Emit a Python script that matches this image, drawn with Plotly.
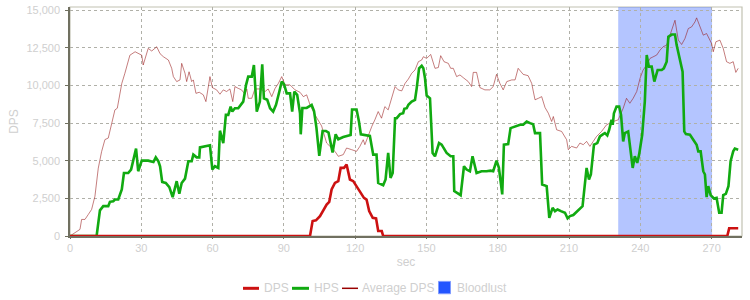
import plotly.graph_objects as go

# ---- data (seconds, value) ----
avg_t = [0, 2.1, 4.2, 4.9, 6.3, 7.7, 9.1, 10.5, 11.9, 13.3, 14.7, 16.1, 17.5, 18.9, 19.9, 21.8, 23.1, 25.2, 27.4, 28.7,
         30.2, 30.8, 32.3, 32.9, 34.4, 35.8, 36.5, 37.9, 39.3, 41.4, 42.8, 43.5, 44.9, 46.3, 47.0, 48.4, 49.1, 50.1, 51.2, 51.9,
         53.0, 54.4, 56.1, 57.2, 58.9, 59.9, 61.7, 63.1, 64.5, 65.9, 67.3, 68.5, 69.4, 70.8, 72.2, 73.6, 74.4, 75.0, 76.5, 77.8,
         79.9, 82.1, 83.4, 84.9, 86.3, 87.7, 89.1, 90.5, 92.6, 94.7, 96.8, 98.2, 99.6, 101.0, 103.1, 105.9, 108.0, 111.5, 112.9, 115.0,
         116.4, 118.5, 120.6, 122.0, 123.4, 124.1, 125.5, 127.0, 128.3, 129.7, 131.1, 132.5, 133.9, 135.4, 136.8, 138.1, 139.6, 141.0, 142.4, 143.8,
         145.2, 146.6, 148.0, 148.7, 150.1, 151.8, 153.6, 155.0, 156.0, 157.4, 159.2, 160.2, 161.3, 162.7, 164.1, 165.5, 167.6, 169.0, 169.7, 171.1,
         172.5, 174.6, 176.7, 178.1, 179.5, 180.9, 182.3, 183.8, 185.9, 187.3, 188.6, 190.7, 192.8, 194.3, 195.7, 197.1, 198.5, 199.9, 201.3, 202.7,
         203.4, 204.8, 206.9, 209.0, 209.7, 211.1, 213.2, 214.6, 216.0, 217.4, 218.8, 220.2, 221.6, 223.7, 225.8, 228.6, 230.7, 232.8, 234.2, 235.6,
         237.0, 238.5, 239.9, 241.2, 242.7, 244.1, 245.5, 246.9, 248.3, 249.6, 251.1, 252.5, 253.9, 254.6, 256.0, 257.4, 258.8, 260.2, 261.6, 263.0,
         263.7, 265.1, 266.5, 267.9, 270.0, 270.7, 271.8, 273.5, 274.9, 276.3, 277.7, 279.1, 280.2, 281.2]
avg_dps = [0, 200, 440, 1100, 1100, 1430, 1760, 2640, 4500, 5600, 6400, 6500, 7500, 8370, 8480, 10130, 10800, 12000, 12230, 12100,
           12000, 11350, 12230, 12450, 12280, 12450, 12560, 12100, 11900, 11680, 11130, 10580, 10250, 10360, 11460, 10800, 10250, 10900, 10250, 10360,
           9470, 9540, 9370, 8920, 10580, 9850, 9700, 9410, 9700, 9590, 9760, 8920, 9920, 9800, 9700, 9410, 9760, 9140, 9140, 9760,
           9760, 9590, 9760, 9250, 9800, 10130, 10580, 10030, 10030, 9700, 9540, 9250, 9370, 8710, 8040, 7300, 6170, 5620, 5290, 5400,
           5840, 5730, 5620, 5950, 6390, 6060, 6720, 7270, 7710, 8260, 7820, 8590, 8370, 9250, 9920, 9700, 9630, 10130, 10420, 10800,
           11020, 11570, 11680, 11900, 11790, 12050, 11130, 11180, 11970, 11570, 11460, 11130, 11130, 10580, 10690, 10510, 10250, 9920, 10860, 10860,
           9850, 9700, 9700, 9920, 10730, 10130, 9700, 10250, 10360, 10360, 11130, 10730, 10640, 10130, 9040, 9140, 9250, 8530, 8150, 7600,
           7930, 7050, 6940, 6390, 5730, 5950, 5840, 6170, 6060, 6280, 5950, 6280, 6610, 6940, 7380, 7600, 7710, 8480, 9140, 8810,
           9140, 9590, 10470, 11020, 11350, 11790, 11900, 12010, 12340, 12560, 12670, 13330, 13880, 14320, 13000, 12710, 13110, 13770, 13880, 14210,
           14480, 13880, 13330, 13440, 12780, 12230, 12890, 13000, 12450, 11570, 11460, 11570, 10860, 11130]

hps_t = [0, 11.2, 12.6, 14.0, 16.1, 16.8, 18.2, 18.9, 20.3, 21.8, 22.7, 24.5, 25.7, 26.6, 27.8, 28.7, 30.2, 32.9, 35.1, 36.1,
         37.2, 37.9, 38.8, 40.3, 41.8, 43.2, 44.9, 46.0, 47.0, 48.4, 49.8, 51.2, 51.9, 53.3, 54.4, 54.7, 56.8, 58.9, 59.9, 61.0,
         62.4, 63.1, 64.5, 65.6, 66.6, 67.6, 68.3, 69.4, 70.8, 71.8, 72.9, 74.1, 75.0, 76.5, 77.4, 78.6, 79.9, 80.9, 81.6, 83.0,
         84.2, 85.5, 86.7, 88.1, 89.1, 90.1, 91.2, 92.6, 93.5, 94.4, 95.6, 96.8, 97.1, 97.8, 99.6, 101.7, 102.7, 103.7, 104.9, 106.3,
         107.7, 108.8, 110.5, 111.8, 112.9, 115.0, 117.1, 118.1, 118.7, 120.6, 121.6, 122.4, 126.2, 127.6, 129.0, 129.7, 131.8, 132.8, 133.9, 134.9,
         135.8, 136.8, 137.5, 138.9, 140.2, 140.7, 141.7, 142.4, 143.8, 145.2, 145.9, 146.9, 148.0, 148.7, 149.4, 150.1, 151.5, 152.6, 153.6, 155.3,
         156.4, 158.5, 160.2, 161.3, 161.7, 163.4, 164.4, 165.8, 166.9, 168.3, 169.4, 171.1, 173.2, 175.3, 177.0, 178.1, 179.5, 180.5, 181.9, 182.6,
         184.4, 185.4, 187.3, 189.4, 190.7, 192.2, 193.6, 194.9, 195.7, 197.8, 198.7, 200.6, 201.7, 203.1, 204.1, 205.2, 206.6, 208.3, 209.4, 210.4,
         211.8, 213.2, 214.6, 215.7, 217.4, 218.4, 219.2, 220.5, 221.9, 223.0, 224.4, 225.1, 226.1, 226.9, 227.9, 228.4, 228.9, 230.0, 231.1, 231.9,
         232.8, 233.5, 234.9, 236.8, 237.7, 238.7, 239.5, 240.8, 241.9, 242.7, 243.6, 244.8, 245.9, 247.3, 249.0, 249.9, 251.1, 251.8, 253.2, 254.6,
         255.3, 256.4, 257.8, 258.5, 259.2, 260.9, 262.3, 263.7, 264.4, 265.4, 266.5, 267.2, 267.9, 268.6, 269.6, 271.0, 272.1, 273.2, 274.2, 274.9,
         276.0, 277.1, 278.0, 279.1, 279.8, 281.2]
hps = [0, 0, 1700, 1980, 1980, 2270, 2310, 2420, 2420, 3090, 4180, 4180, 4410, 5000, 5800, 4300, 5000, 5000, 4910, 5220,
       4960, 4630, 3590, 3520, 3240, 2580, 3640, 2800, 3520, 3810, 4960, 4960, 5400, 5220, 5220, 5880, 5950, 6020, 4410, 4630,
       4520, 6990, 6170, 8040, 8040, 8590, 8260, 8480, 8480, 8710, 8920, 10030, 10580, 10580, 11350, 8260, 8920, 11390, 9140, 9040,
       8480, 8260, 8710, 9590, 10250, 10070, 9470, 9470, 8260, 9590, 9370, 8150, 6750, 8500, 8500, 8700, 8290, 7190, 5320, 6970,
       6970, 6860, 5540, 6750, 6420, 6570, 6640, 6700, 8400, 8400, 7600, 6750, 6640, 5400, 5400, 3520, 3370, 3750, 5510, 3860,
       4180, 7820, 7820, 8090, 8150, 8440, 8480, 8710, 8920, 9040, 9800, 11130, 11300, 11130, 10470, 9320, 9140, 5510, 5290, 6170,
       6060, 5510, 5290, 5290, 2980, 2800, 2710, 4630, 4410, 4300, 5290, 4180, 4300, 4300, 4340, 4300, 5000, 4520, 2760, 6060,
       6100, 7160, 7270, 7380, 7380, 7600, 7490, 7420, 6830, 6830, 3420, 3310, 1210, 1870, 1650, 1760, 1650, 1540, 1170, 1320,
       1390, 1610, 1830, 1980, 4520, 3750, 4080, 6060, 6170, 6610, 6760, 6830, 6680, 7050, 7710, 7380, 8150, 8590, 8590, 8040,
       6280, 6830, 6940, 4520, 5290, 4850, 5400, 6720, 8920, 12010, 11240, 11240, 10250, 11020, 11020, 11130, 11570, 13220, 13370, 13370,
       12670, 11790, 10900, 6940, 6760, 6720, 6390, 6060, 5620, 5620, 4300, 4080, 2580, 3310, 2710, 2490, 2530, 1540, 1540, 2710,
       2800, 3310, 4960, 5620, 5800, 5730]

dps_t = [0, 100.3, 101.0, 102.1, 103.5, 105.2, 106.6, 108.0, 109.1, 110.1, 111.5, 112.9, 113.9, 115.3, 116.4, 117.8, 119.2, 120.6, 122.0, 123.7,
         124.8, 125.9, 127.4, 128.8, 129.7, 131.2, 131.8, 276.6, 277.4, 281.2]
dps = [0, 0, 0, 990, 1040, 1320, 1760, 2090, 2270, 3090, 3520, 3640, 4520, 4520, 4740, 3750, 3640, 3310, 2980, 2530,
       2420, 1650, 1210, 1170, 330, 330, 0, 0, 510, 510]

bloodlust_start = 230.7
bloodlust_end = 270.2

x_max = 282.8
y_max = 15200
x_ticks = [0, 30, 60, 90, 120, 150, 180, 210, 240, 270]
y_ticks = [0, 2500, 5000, 7500, 10000, 12500, 15000]

series_names = ["DPS", "HPS", "Average DPS", "Bloodlust"]
series_colors = ["#cc1111", "#11aa11", "#990000", "#2255ff"]

FONT = "Liberation Sans, Arial, sans-serif"
LABEL = "#cfcfcf"
W, H = 750, 300
ML, MR, MT, MB = 70, 8, 4, 64
PW, PH = W - ML - MR, H - MT - MB


def px(x):  # page pixel -> paper x
    return (x - ML) / PW


def py(y):  # page pixel -> paper y
    return (H - MB - y) / PH


fig = go.Figure()
fig.add_trace(go.Scatter(x=avg_t, y=avg_dps, name=series_names[2], mode="lines", showlegend=False,
                         line=dict(color="rgba(150,20,20,0.55)", width=1)))
fig.add_trace(go.Scatter(x=hps_t, y=hps, name=series_names[1], mode="lines", showlegend=False,
                         line=dict(color=series_colors[1], width=2.6)))
fig.add_trace(go.Scatter(x=dps_t, y=dps, name=series_names[0], mode="lines", showlegend=False,
                         line=dict(color=series_colors[0], width=2.6)))

fig.add_shape(type="rect", xref="x", yref="y", x0=bloodlust_start, x1=bloodlust_end, y0=0, y1=y_max,
              fillcolor="rgba(34,85,255,0.34)", line=dict(width=0), layer="below")
fig.add_shape(type="rect", xref="paper", yref="paper", x0=0, x1=1, y0=0, y1=1,
              line=dict(color="#c2c2b2", width=1.2), layer="below")

# ---- custom legend (bottom) ----
leg_y = 289
line_items = [(243, 259, 262, 3, series_colors[0], series_names[0]),
              (292, 309, 312, 3, series_colors[1], series_names[1]),
              (342, 358, 360, 1.5, series_colors[2], series_names[2])]
for x0, x1, tx, w, c, name in line_items:
    fig.add_shape(type="line", xref="paper", yref="paper", x0=px(x0), x1=px(x1), y0=py(leg_y), y1=py(leg_y),
                  line=dict(color=c, width=w))
    fig.add_annotation(xref="paper", yref="paper", x=px(tx), y=py(leg_y), text=name, showarrow=False,
                       xanchor="left", yanchor="middle", font=dict(size=12, color=LABEL))
fig.add_shape(type="rect", xref="paper", yref="paper", x0=px(438.5), x1=px(450.5), y0=py(294.5), y1=py(282),
              fillcolor=series_colors[3], line=dict(color="#7f9bff", width=1))
fig.add_annotation(xref="paper", yref="paper", x=px(455), y=py(leg_y), text=series_names[3], showarrow=False,
                   xanchor="left", yanchor="middle", font=dict(size=12, color=LABEL))

fig.update_layout(
    width=W, height=H,
    margin=dict(l=ML, r=MR, t=MT, b=MB),
    paper_bgcolor="white", plot_bgcolor="white",
    font=dict(family=FONT, size=11, color=LABEL),
    showlegend=False,
    xaxis=dict(range=[0, x_max], tickvals=x_ticks, showgrid=True, gridcolor="#b0b0a8",
               griddash="3px,3px", gridwidth=1, zeroline=False, showline=True,
               linecolor="#707060", linewidth=1.5, ticks="outside", ticklen=1, tickcolor="#707060",
               tickfont=dict(size=11, color=LABEL),
               title=dict(text="sec", font=dict(size=12, color=LABEL), standoff=5)),
    yaxis=dict(range=[0, y_max], tickvals=y_ticks, tickformat=",d", showgrid=True, gridcolor="#b0b0a8",
               griddash="3px,3px", gridwidth=1, zeroline=False, showline=True,
               linecolor="#707060", linewidth=1.5, ticks="outside", ticklen=3, tickcolor="#707060",
               tickfont=dict(size=11, color=LABEL), ticklabelstandoff=3,
               title=dict(text="DPS", font=dict(size=12, color=LABEL), standoff=5)),
)

fig.write_html("out.html")
